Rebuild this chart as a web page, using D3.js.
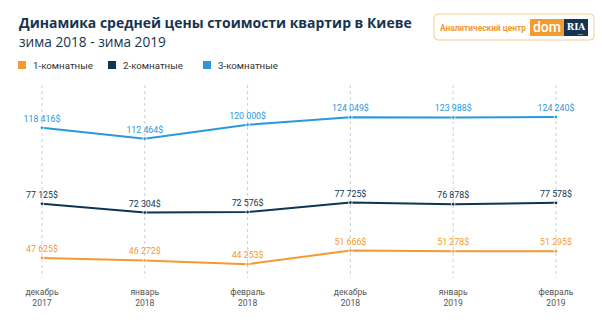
<!DOCTYPE html>
<html>
<head>
<meta charset="utf-8">
<script src="https://cdn.jsdelivr.net/npm/d3@7/dist/d3.min.js"></script>
<style>
  body { margin: 0; background: #fff; }
  svg { display: block; font-family: Roboto, "Noto Sans", sans-serif; }
</style>
</head>
<body>
<div id="chart"></div>
<script>
// data
var months = ['декабрь', 'январь', 'февраль', 'декабрь', 'январь', 'февраль'];
var years = ['2017', '2018', '2018', '2018', '2019', '2019'];
var oneRoom = [47625, 46272, 44253, 51666, 51278, 51295];
var twoRoom = [77125, 72304, 72576, 77725, 76878, 77578];
var threeRoom = [118416, 112464, 120000, 124049, 123988, 124240];
var seriesNames = ['1-комнатные', '2-комнатные', '3-комнатные'];
var colors = ['#f39a30', '#0e3552', '#2b98dc'];

var W = 602, H = 323;

var svg = d3.select('#chart').append('svg')
    .attr('width', W)
    .attr('height', H);

// shrink/grow a text's font so it spans the width seen in the reference
function fit(sel, width){
    var n = sel.node();
    var fs = parseFloat(sel.attr('font-size'));
    var w = n.getComputedTextLength();
    if (w > 0) { sel.attr('font-size', fs * width / w); }
    return sel;
}

// title
fit(svg.append('text')
    .attr('x', 19).attr('y', 28)
    .attr('fill', '#17344f')
    .attr('font-family', '"Open Sans", sans-serif')
    .attr('font-size', 14)
    .attr('font-weight', 700)
    .text('Динамика средней цены стоимости квартир в Киеве'), 393);

fit(svg.append('text')
    .attr('x', 19).attr('y', 47)
    .attr('fill', '#17344f')
    .attr('font-family', '"Open Sans", sans-serif')
    .attr('font-size', 13)
    .text('зима 2018 - зима 2019'), 147);

// legend
var legendX = [18, 108, 203];
var legend = svg.append('g').selectAll('g')
    .data(seriesNames)
    .join('g')
    .attr('transform', function(d, i){ return 'translate(' + legendX[i] + ',61)'; });

legend.append('rect')
    .attr('width', 8).attr('height', 8)
    .attr('fill', function(d, i){ return colors[i]; });

legend.append('text')
    .attr('x', 15).attr('y', 7.5)
    .attr('font-size', 10)
    .attr('fill', '#333')
    .text(function(d){ return d; })
    .each(function(){ fit(d3.select(this), 60); });

// logo
var logo = svg.append('g');
logo.append('rect')
    .attr('x', 434).attr('y', 14)
    .attr('width', 160).attr('height', 26)
    .attr('rx', 4)
    .attr('fill', '#fff')
    .attr('stroke', '#f8c98f')
    .attr('stroke-width', 1);
fit(logo.append('text')
    .attr('x', 440).attr('y', 30.5)
    .attr('font-size', 8)
    .attr('font-weight', 700)
    .attr('fill', '#f39a30')
    .text('Аналитический центр'), 86);
logo.append('rect')
    .attr('x', 530).attr('y', 19)
    .attr('width', 34).attr('height', 17)
    .attr('rx', 1)
    .attr('fill', '#f39a30');
logo.append('text')
    .attr('x', 547).attr('y', 32)
    .attr('text-anchor', 'middle')
    .attr('font-size', 14)
    .attr('font-weight', 500)
    .attr('fill', '#fff')
    .text('dom');
logo.append('rect')
    .attr('x', 564).attr('y', 19)
    .attr('width', 24).attr('height', 17)
    .attr('fill', '#17344f');
logo.append('text')
    .attr('x', 576).attr('y', 30)
    .attr('text-anchor', 'middle')
    .attr('font-size', 9)
    .attr('font-weight', 700)
    .attr('font-family', 'DejaVu Serif, serif')
    .attr('fill', '#fff')
    .text('RIA');
logo.append('text')
    .attr('x', 583).attr('y', 34.5)
    .attr('text-anchor', 'end')
    .attr('font-size', 2.5)
    .attr('fill', '#fff')
    .text('.com');

// scales
var x = d3.scalePoint()
    .domain(d3.range(months.length))
    .range([42, 556]);

var y = d3.scaleLinear()
    .domain([40000, 130000])
    .range([272, 106.4]);

// grid
svg.append('g').selectAll('line')
    .data(x.domain())
    .join('line')
    .attr('x1', function(d){ return x(d); })
    .attr('x2', function(d){ return x(d); })
    .attr('y1', 85).attr('y2', 278)
    .attr('stroke', '#cfcfcf')
    .attr('stroke-width', 1)
    .attr('stroke-dasharray', '3,3');

// x labels
var xl = svg.append('g').selectAll('text')
    .data(x.domain())
    .join('text')
    .attr('x', function(d){ return x(d); })
    .attr('text-anchor', 'middle')
    .attr('font-size', 8.6)
    .attr('fill', '#555');
xl.append('tspan')
    .attr('x', function(d){ return x(d); })
    .attr('y', 295)
    .text(function(d){ return months[d]; });
xl.append('tspan')
    .attr('x', function(d){ return x(d); })
    .attr('y', 305.5)
    .text(function(d){ return years[d]; });

var fmt = function(v){ return d3.format(',')(v).replace(/,/g, ' ') + '$'; };

var line = d3.line()
    .x(function(d, i){ return x(i); })
    .y(function(d){ return y(d); });

[oneRoom, twoRoom, threeRoom].forEach(function(s, k){
    var g = svg.append('g');
    g.append('path')
        .datum(s)
        .attr('d', line)
        .attr('fill', 'none')
        .attr('stroke', colors[k])
        .attr('stroke-width', 2);

    g.selectAll('circle')
        .data(s)
        .join('circle')
        .attr('cx', function(d, i){ return x(i); })
        .attr('cy', function(d){ return y(d); })
        .attr('r', 1.8)
        .attr('fill', colors[k])
        .attr('stroke', '#fff')
        .attr('stroke-width', 0.8);

    g.selectAll('text')
        .data(s)
        .join('text')
        .attr('x', function(d, i){ return x(i); })
        .attr('y', function(d){ return y(d) - 6; })
        .attr('text-anchor', 'middle')
        .attr('font-size', 8.8)
        .attr('fill', colors[k])
        .text(fmt);
});
</script>
</body>
</html>
